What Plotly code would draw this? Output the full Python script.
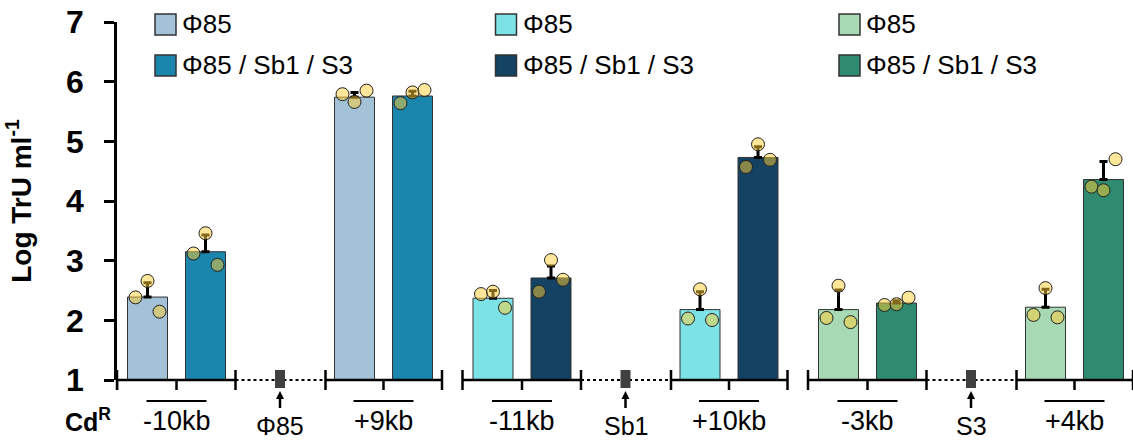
import plotly.graph_objects as go

# ---------------- data ----------------
groups = ["-10kb", "+9kb", "-11kb", "+10kb", "-3kb", "+4kb"]
genes = ["Φ85", "Sb1", "S3"]
series_names = ["Φ85", "Φ85 / Sb1 / S3"]

phi85_mean = [2.39, 5.74, 2.37, 2.18, 2.18, 2.22]
phi85_err = [0.24, 0.08, 0.13, 0.30, 0.33, 0.30]
phi85_reps = [[2.385, 2.66, 2.145], [5.79, 5.66, 5.85], [2.44, 2.48, 2.21],
              [2.03, 2.52, 2.005], [2.04, 2.58, 1.97], [2.09, 2.54, 2.05]]

combo_mean = [3.15, 5.76, 2.71, 4.73, 2.29, 4.36]
combo_err = [0.28, 0.08, 0.20, 0.18, 0.04, 0.30]
combo_reps = [[3.12, 3.46, 2.93], [5.64, 5.82, 5.86], [2.48, 3.01, 2.68],
              [4.57, 4.95, 4.69], [2.257, 2.27, 2.38], [4.24, 4.18, 4.70]]

y_ticks = [1, 2, 3, 4, 5, 6, 7]

# ---------------- styles / layout constants ----------------
light_colors = ["#A3C1D7", "#7DE2E6", "#A8D9B5"]
dark_colors = ["#1A85AD", "#134263", "#2F8B70"]
dot_fill = "rgba(255,205,50,0.5)"
FONT = "Arial, Liberation Sans, sans-serif"

W, H = 1133, 441
ML, MT = 117, 22
PLOT_H = 358
MB = H - MT - PLOT_H
PLOT_W = W - ML
BASE_PX = 380  # baseline row in pixels


def py(p):
    """pixel row -> paper y"""
    return (BASE_PX - p) / PLOT_H


panel_start = [0, 345.5, 691]
panel_len = 325
seg1_end, seg2_start = 118.5, 208.5
grp_off = [59.5, 266.5]
gene_off = 163
bar_w, bar_sep, dot_dx = 40, 29, 12
legend_off = [38, 33, 31]

grp_x = []
for p in panel_start:
    grp_x += [p + grp_off[0], p + grp_off[1]]
panel_of = [0, 0, 1, 1, 2, 2]

fig = go.Figure()

light_x = [g - bar_sep for g in grp_x]
dark_x = [g + bar_sep for g in grp_x]

fig.add_trace(go.Bar(
    x=light_x, y=phi85_mean, width=bar_w, name=series_names[0],
    marker=dict(color=[light_colors[i] for i in panel_of], line=dict(color="#333333", width=1)),
    error_y=dict(type="data", array=phi85_err, arrayminus=[0] * 6, symmetric=False,
                 color="black", thickness=3, width=4),
    showlegend=False))
fig.add_trace(go.Bar(
    x=dark_x, y=combo_mean, width=bar_w, name=series_names[1],
    marker=dict(color=[dark_colors[i] for i in panel_of], line=dict(color="#333333", width=1)),
    error_y=dict(type="data", array=combo_err, arrayminus=[0] * 6, symmetric=False,
                 color="black", thickness=3, width=4),
    showlegend=False))

dx, dy = [], []
for centers, reps in ((light_x, phi85_reps), (dark_x, combo_reps)):
    for c, r in zip(centers, reps):
        for k, v in enumerate(r):
            dx.append(c + (k - 1) * dot_dx)
            dy.append(v)
fig.add_trace(go.Scatter(
    x=dx, y=dy, mode="markers", showlegend=False, cliponaxis=False,
    marker=dict(size=13, color=dot_fill, line=dict(color="#222222", width=1))))

shapes = []
annotations = []
LW = 2.5
y_base = py(BASE_PX)
for pi, p in enumerate(panel_start):
    # solid segments
    for a, b in ((p, p + seg1_end), (p + seg2_start, p + panel_len)):
        shapes.append(dict(type="line", xref="x", yref="paper", x0=a, x1=b, y0=y_base, y1=y_base,
                           line=dict(color="black", width=LW)))
        for e in (a, b):
            shapes.append(dict(type="line", xref="x", yref="paper", x0=e, x1=e, y0=py(370), y1=py(390),
                               line=dict(color="black", width=LW)))
    # mid ticks
    for go_ in grp_off:
        shapes.append(dict(type="line", xref="x", yref="paper", x0=p + go_, x1=p + go_, y0=y_base, y1=py(390),
                           line=dict(color="black", width=LW)))
    # dotted line
    shapes.append(dict(type="line", xref="x", yref="paper", x0=p + seg1_end, x1=p + seg2_start,
                       y0=y_base, y1=y_base, line=dict(color="black", width=2, dash="dot")))
    # gene box
    gx = p + gene_off
    shapes.append(dict(type="rect", xref="x", yref="paper", x0=gx - 5, x1=gx + 5, y0=py(388), y1=py(370),
                       fillcolor="#404040", line=dict(width=0)))
    # arrow: shaft + head
    shapes.append(dict(type="line", xref="x", yref="paper", x0=gx, x1=gx, y0=py(408), y1=py(397),
                       line=dict(color="black", width=2.5)))
    shapes.append(dict(type="path", xref="x", yref="paper",
                       path=f"M {gx - 4},{py(399)} L {gx},{py(391)} L {gx + 4},{py(399)} Z",
                       fillcolor="black", line=dict(width=0)))
    annotations.append(dict(x=gx, y=py(426), xref="x", yref="paper", text=genes[pi], showarrow=False,
                            xanchor="center", yanchor="middle", font=dict(family=FONT, size=25, color="black")))
    # legend
    lx = p + legend_off[pi]
    for k, (ytop, col) in enumerate(((14, light_colors[pi]), (55, dark_colors[pi]))):
        shapes.append(dict(type="rect", xref="x", yref="paper", x0=lx, x1=lx + 21,
                           y0=py(ytop + 21), y1=py(ytop), fillcolor=col,
                           line=dict(color="#333333", width=1.5)))
        annotations.append(dict(x=lx + 25, y=py(ytop + 10.5), xref="x", yref="paper",
                                text=series_names[k], showarrow=False, xanchor="left", yanchor="middle",
                                font=dict(family=FONT, size=26, color="black")))

# group underline + labels
for g, lab in zip(grp_x, groups):
    shapes.append(dict(type="line", xref="x", yref="paper", x0=g - 30, x1=g + 30, y0=py(401), y1=py(401),
                       line=dict(color="black", width=2)))
    annotations.append(dict(x=g, y=py(421), xref="x", yref="paper", text=lab, showarrow=False,
                            xanchor="center", yanchor="middle", font=dict(family=FONT, size=27, color="black")))

# y axis extension below baseline
shapes.append(dict(type="line", xref="paper", yref="paper", x0=0, x1=0, y0=y_base, y1=py(390),
                   line=dict(color="black", width=LW)))

annotations.append(dict(x=(88 - ML) / PLOT_W, y=py(420), xref="paper", yref="paper",
                        text="<b>Cd<sup>R</sup></b>", showarrow=False, xanchor="center", yanchor="middle",
                        font=dict(family=FONT, size=25, color="black")))

fig.update_layout(
    width=W, height=H,
    margin=dict(l=ML, r=0, t=MT, b=MB, pad=0, autoexpand=False),
    paper_bgcolor="white", plot_bgcolor="white",
    barmode="overlay",
    shapes=shapes, annotations=annotations,
    xaxis=dict(range=[0, PLOT_W], visible=False),
    yaxis=dict(range=[1, 7], tickvals=y_ticks, showgrid=False, zeroline=False, automargin=False,
               showline=True, linecolor="black", linewidth=LW,
               ticks="outside", ticklen=10, tickwidth=LW, tickcolor="black",
               ticklabelstandoff=14, ticklabeloverflow="allow",
               tickfont=dict(family=FONT, size=32, color="black", weight="bold"),
               title=dict(text="<b>Log TrU ml<sup>-1</sup></b>", standoff=27,
                          font=dict(family=FONT, size=28, color="black"))),
    font=dict(family=FONT),
)

# remove the default page margin so the figure fills the window exactly
fig.write_html("out.html", config={"displayModeBar": False},
               post_script="document.body.style.margin='0';")
